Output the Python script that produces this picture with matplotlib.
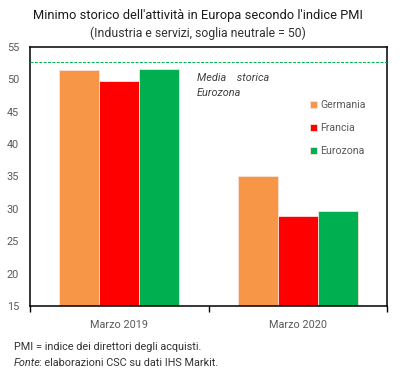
import matplotlib
matplotlib.use("Agg")
import matplotlib.pyplot as plt
import numpy as np

plt.rcParams['font.family'] = ['Roboto', 'DejaVu Sans']

categories = ["Marzo 2019", "Marzo 2020"]
series_names = ["Germania", "Francia", "Eurozona"]
germania = [51.4, 35.0]
francia = [49.8, 28.9]
eurozona = [51.6, 29.7]
media_storica = 52.7
yticks = [15, 20, 25, 30, 35, 40, 45, 50, 55]

colors = ["#F79646", "#FF0000", "#00B050"]
gray = "#595959"

fig = plt.figure(figsize=(4.01, 3.79), dpi=100)
ax = fig.add_axes([30/401, 1-306/379, 357/401, 259/379])

x = np.arange(len(categories))
w = 0.224
for i, (vals, c, name) in enumerate(zip([germania, francia, eurozona], colors, series_names)):
    ax.bar(x + (i - 1) * w, vals, width=w, color=c, edgecolor="#FBE3DA", linewidth=0.6, label=name, zorder=2)

ax.axhline(media_storica, color="#00B050", linestyle=(0, (3, 1.5)), linewidth=0.7, zorder=3)

ax.set_xlim(-0.5, 1.5)
ax.set_ylim(15, 55)
ax.set_yticks(yticks)
ax.set_xticks(x)
ax.set_xticklabels(categories)
ax.set_xticks([-0.5, 0.5, 1.5], minor=True)
ax.tick_params(axis='x', which='major', length=0, pad=10, labelsize=7.8, labelcolor=gray)
ax.tick_params(axis='x', which='minor', length=4, width=1, direction='out')
ax.tick_params(axis='y', length=0, pad=8, labelsize=7.8, labelcolor=gray)
for s in ax.spines.values():
    s.set_linewidth(1.1)
    s.set_color("black")

ax.text(0.468, 0.880, "Media    storica", transform=ax.transAxes, fontsize=7.8, style='italic',
        color="#404040", va='center', ha='left')
ax.text(0.468, 0.822, "Eurozona", transform=ax.transAxes, fontsize=7.8, style='italic',
        color="#404040", va='center', ha='left')

leg = ax.legend(loc='upper left', bbox_to_anchor=(0.772, 0.812), frameon=False, fontsize=7.6,
                handlelength=0.7, handleheight=0.7, handletextpad=0.3, labelspacing=1.25,
                borderaxespad=0)
for t in leg.get_texts():
    t.set_color(gray)

fig.text(198/401, 1-16/379, "Minimo storico dell'attività in Europa secondo l'indice PMI",
         ha='center', va='center', fontsize=9.3, color="#1a1a1a")
fig.text(198/401, 1-33/379, "(Industria e servizi, soglia neutrale = 50)",
         ha='center', va='center', fontsize=8.8, color="#333333")

fig.text(14/401, 1-347/379, "PMI = indice dei direttori degli acquisti.", ha='left', va='center',
         fontsize=7.8, color="#333333")
t1 = fig.text(14/401, 1-363/379, "Fonte", ha='left', va='center', fontsize=7.8, color="#333333", style='italic')
fig.canvas.draw()
bb = t1.get_window_extent()
fig.text((bb.x1 - 1.5) / fig.bbox.width, 1-363/379, ": elaborazioni CSC su dati IHS Markit.", ha='left', va='center',
         fontsize=7.8, color="#333333")

fig.savefig("out.png", dpi=100)
